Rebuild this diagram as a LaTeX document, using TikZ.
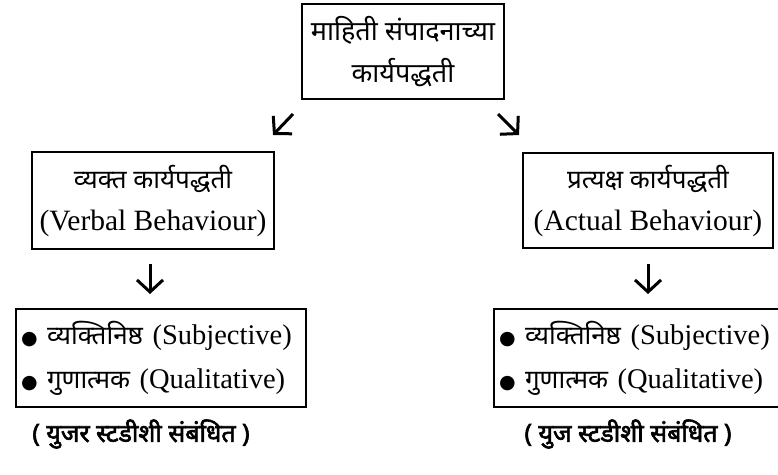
\documentclass[tikz,border=0pt]{standalone}
\usepackage{fontspec}
\setmainfont{Liberation Serif}
\newfontfamily\dev[Script=Devanagari]{Noto Sans}
\newfontfamily\devb[Script=Devanagari,FakeBold=2.5]{Noto Sans}
\newfontfamily\sym{DejaVu Sans}
\usetikzlibrary{arrows.meta}
\begin{document}
\begin{tikzpicture}[x=1pt,y=-1pt,
  box/.style={draw,line width=1.8pt,inner sep=0pt,align=center},
  arr/.style={line width=3pt,-{Straight Barb[length=12pt,width=26pt,line width=3pt]}},
  qbox/.style={box,minimum width=290pt,minimum height=98pt,text width=280pt,align=left,font=\fontsize{28.5}{44}\selectfont},
]
\useasboundingbox (0,0) rectangle (778,474);

\node[box,minimum width=202pt,minimum height=95pt,font=\dev\fontsize{27}{42}\selectfont] (top) at (403,51.5)
  {माहिती संपादनाच्या\\कार्यपद्धती};

\node[box,minimum width=242pt,minimum height=97pt,font=\fontsize{29.5}{42}\selectfont] (vb) at (153,200.5)
  {{\dev\fontsize{26}{42}\selectfont व्यक्त कार्यपद्धती}\\(Verbal Behaviour)};
\node[box,minimum width=250pt,minimum height=95pt,font=\fontsize{29.5}{42}\selectfont] (ab) at (648,200.5)
  {{\dev\fontsize{26}{42}\selectfont प्रत्यक्ष कार्यपद्धती}\\(Actual Behaviour)};

\node[qbox] (lq) at (161,358)
  {{\sym\fontsize{19}{44}\selectfont ●} {\dev\fontsize{26}{44}\selectfont व्यक्तिनिष्ठ} (Subjective)\\
   {\sym\fontsize{19}{44}\selectfont ●} {\dev\fontsize{26}{44}\selectfont गुणात्मक} (Qualitative)};
\node[qbox] (rq) at (639,358)
  {{\sym\fontsize{19}{44}\selectfont ●} {\dev\fontsize{26}{44}\selectfont व्यक्तिनिष्ठ} (Subjective)\\
   {\sym\fontsize{19}{44}\selectfont ●} {\dev\fontsize{26}{44}\selectfont गुणात्मक} (Qualitative)};

\node[font=\devb\fontsize{25}{30}\selectfont] (lc) at (141,434) {( युजर स्टडीशी संबंधित )};
\node[font=\devb\fontsize{25}{30}\selectfont] (rc) at (628,434) {( युज स्टडीशी संबंधित )};

\coordinate (d1s) at (293,114);
\coordinate (d1e) at (273,135);
\coordinate (d2s) at (498,114);
\coordinate (d2e) at (519,135);
\coordinate (v1s) at (150,264);
\coordinate (v1e) at (150,294);
\coordinate (v2s) at (648,264);
\coordinate (v2e) at (648,294);
\draw[arr] (d1s) -- (d1e);
\draw[arr] (d2s) -- (d2e);
\draw[arr] (v1s) -- (v1e);
\draw[arr] (v2s) -- (v2e);
\end{tikzpicture}
\end{document}
